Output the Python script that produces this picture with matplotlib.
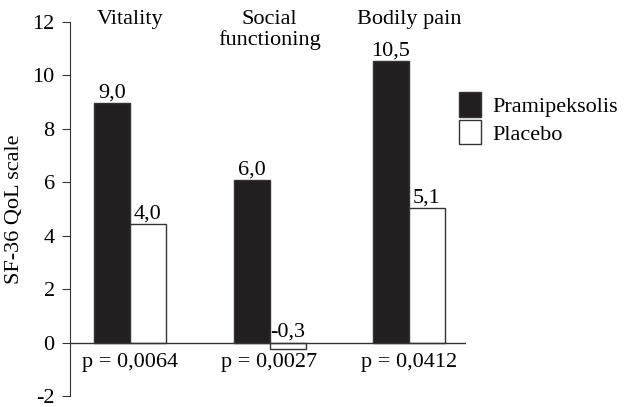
import matplotlib.pyplot as plt
from matplotlib.patches import Patch
import numpy as np

# data
categories = ['Vitality', 'Social\nfunctioning', 'Bodily pain']
prami = [8.95, 6.07, 10.55]
placebo = [4.45, -0.25, 5.05]
prami_labels = ['9,0', '6,0', '10,5']
placebo_labels = ['4,0', '-0,3', '5,1']
p_values = ['p = 0,0064', 'p = 0,0027', 'p = 0,0412']

plt.rcParams['font.family'] = ['Liberation Serif', 'DejaVu Serif']
plt.rcParams['axes.unicode_minus'] = False
fs = 16

fig = plt.figure(figsize=(6.25, 4.07), dpi=100)
ax = fig.add_axes([0.112, 0.027, 0.634, 0.919])

x = np.arange(len(categories))
w = 0.258
black = '#231f20'

ax.bar(x - w / 2, prami, w, color=black, edgecolor='#333333', linewidth=1)
ax.bar(x + w / 2, placebo, w, color='white', edgecolor='#333333', linewidth=1)

# value labels
for i in range(len(x)):
    ax.text(x[i] - w / 2, prami[i] + 0.02, prami_labels[i], ha='center', va='bottom', fontsize=fs)
    ax.text(x[i] + w / 2, max(placebo[i], 0) + 0.02, placebo_labels[i], ha='center', va='bottom', fontsize=fs)
    ax.text(x[i], -0.75, p_values[i], ha='center', va='center', fontsize=fs)
    ax.text(x[i], 12.45, categories[i], ha='center', va='top', fontsize=fs, linespacing=1.1)

ax.axhline(0, color='#333333', linewidth=1)
ax.set_xlim(-0.43, 2.41)
ax.set_ylim(-2, 12)
ax.set_yticks(range(-2, 13, 2))
ax.set_xticks([])
ax.tick_params(axis='y', labelsize=fs, length=6, pad=5, color='#333333')
ax.set_ylabel('SF-36 QoL scale', fontsize=fs, labelpad=6)
for s in ['top', 'right', 'bottom']:
    ax.spines[s].set_visible(False)
ax.spines['left'].set_color('#333333')
ax.patch.set_alpha(0)

handles = [Patch(facecolor=black, edgecolor='#333333', label='Pramipeksolis'),
           Patch(facecolor='white', edgecolor='#333333', label='Placebo')]
fig.legend(handles=handles, loc='upper left', bbox_to_anchor=(0.72, 0.795),
           frameon=False, fontsize=fs, handlelength=1.0, handleheight=1.3,
           handletextpad=0.5, labelspacing=0.15, borderaxespad=0)

fig.savefig('out.png', dpi=100)
